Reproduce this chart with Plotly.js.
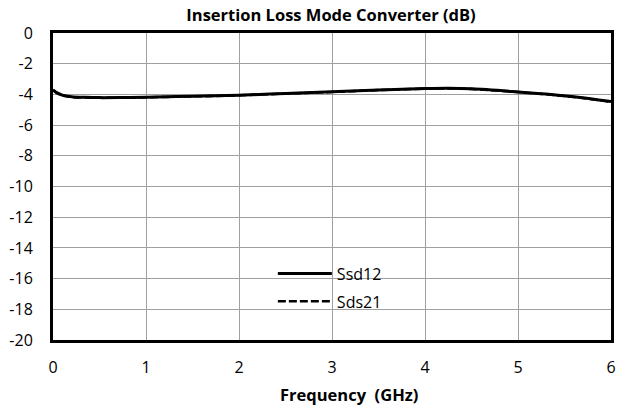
<!DOCTYPE html>
<html><head><meta charset="utf-8">
<script src="https://cdn.plot.ly/plotly-3.0.1.min.js"></script>
<style>html,body{margin:0;padding:0;background:#fff}</style>
</head><body><div id="chart" style="width:617px;height:411px"></div>
<script>
const freq = [0, 0.05, 0.1, 0.2, 0.35, 0.5, 0.75, 1, 1.5, 2, 2.5, 3, 3.5, 4, 4.25, 4.5, 5, 5.3, 5.6, 6];
const ssd12 = [-3.7, -3.92, -4.05, -4.15, -4.19, -4.21, -4.2, -4.18, -4.12, -4.05, -3.94, -3.83, -3.71, -3.62, -3.6, -3.64, -3.84, -3.98, -4.16, -4.47];
const sds21 = [-3.72, -3.94, -4.07, -4.17, -4.21, -4.22, -4.21, -4.19, -4.13, -4.06, -3.95, -3.84, -3.72, -3.63, -3.61, -3.65, -3.85, -3.99, -4.17, -4.48];
const xTicks = [0, 1, 2, 3, 4, 5, 6];
const yTicks = [0, -2, -4, -6, -8, -10, -12, -14, -16, -18, -20];
const font = "Open Sans, Noto Sans, sans-serif";
const traces = [
  {x: freq, y: ssd12, name: "Ssd12", legendgroup: "a", mode: "lines", line: {color: "#000", width: 3, shape: "spline"}},
  {x: freq, y: sds21, name: "Sds21", legendgroup: "b", mode: "lines", line: {color: "#000", width: 2.5, dash: "8px,3px", shape: "spline"}}
];
const layout = {
  width: 617, height: 411,
  margin: {l: 53, r: 6, t: 33, b: 71},
  paper_bgcolor: "#fff", plot_bgcolor: "#fff",
  font: {family: font, color: "#000", size: 16},
  title: {text: "<b>Insertion Loss Mode Converter (dB)</b>", x: 0.5365, xanchor: "center", y: 0.9635, yanchor: "middle", font: {size: 16.5, family: font}},
  xaxis: {range: [0, 6], tickvals: xTicks, ticktext: xTicks.map(String), showgrid: true, gridcolor: "#a0a0a0", gridwidth: 1,
    zeroline: false, showline: true, linecolor: "#000", linewidth: 3, mirror: true, ticks: "", ticklabelstandoff: 11,
    tickfont: {size: 16, family: font}},
  yaxis: {range: [-20, 0], tickvals: yTicks, ticktext: yTicks.map(String), showgrid: true, gridcolor: "#a0a0a0", gridwidth: 1,
    zeroline: false, showline: true, linecolor: "#000", linewidth: 3, mirror: true, ticks: "", ticklabelstandoff: 14,
    tickfont: {size: 16, family: font}},
  annotations: [
    {text: "<b>Frequency  (GHz)</b>", xref: "paper", yref: "paper", x: 0.530, y: -0.178, xanchor: "center", yanchor: "middle",
     showarrow: false, font: {size: 16.5, family: font}}
  ],
  shapes: [
    {type: "rect", xref: "paper", yref: "paper", x0: 0.375, x1: 0.618, y0: 0.08, y1: 0.255, layer: "between",
     fillcolor: "#fff", line: {width: 0}}
  ],
  legend: {x: 0.394, y: 0.2715, xanchor: "left", yanchor: "top", bgcolor: "rgba(0,0,0,0)", borderwidth: 0,
    font: {size: 16, family: font}, itemwidth: 54, tracegroupgap: 4, traceorder: "grouped"},
  showlegend: true
};
Plotly.newPlot("chart", traces, layout, {displayModeBar: false, staticPlot: true});
</script></body></html>
